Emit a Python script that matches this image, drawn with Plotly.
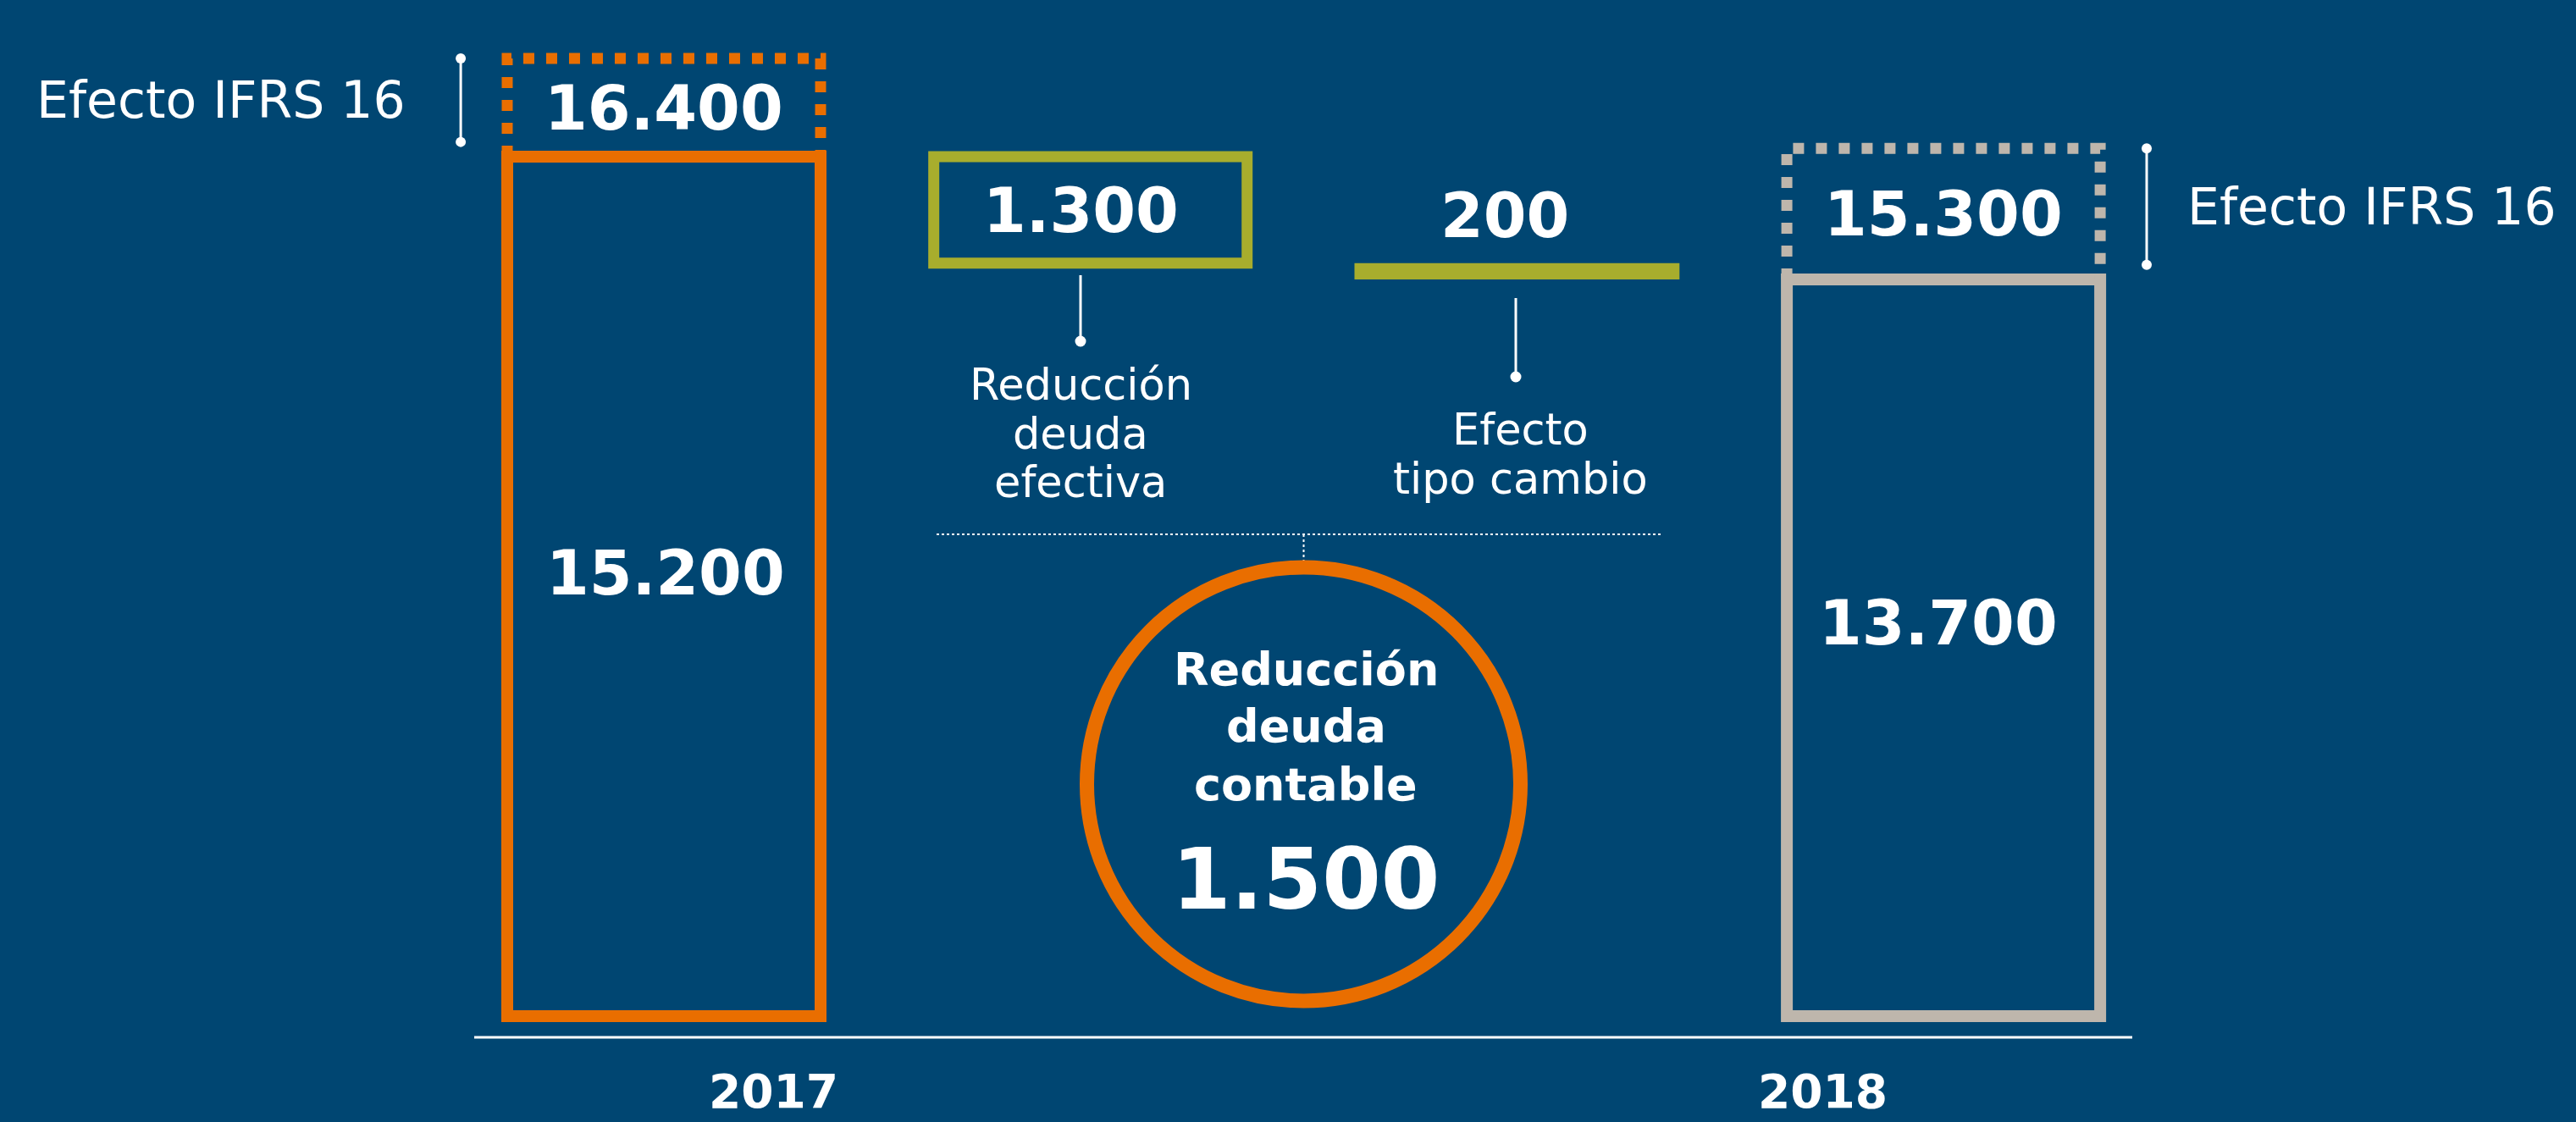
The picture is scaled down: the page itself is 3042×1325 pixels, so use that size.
import plotly.graph_objects as go

# ---------------- data ----------------
years = ["2017", "2018"]
deuda_contable = [15200, 13700]        # deuda sin efecto IFRS 16
deuda_ifrs16 = [16400, 15300]          # deuda con efecto IFRS 16
puente_labels = [["Reducción", "deuda", "efectiva"], ["Efecto", "tipo cambio"]]
puente_valores = [1300, 200]
reduccion_contable = 1500
circle_label = ["Reducción", "deuda", "contable"]
ifrs_label = "Efecto IFRS 16"

# ---------------- style / layout constants ----------------
W, H = 3042, 1325
BG = "#004672"
ORANGE = "#E96E00"
OLIVE = "#A8AD2D"
GREY = "#BEB6AC"
WHITE = "#FFFFFF"
FONT = "DejaVu Sans"

X_UNIT_PX = 503.7
X0 = -784 / X_UNIT_PX
X1 = X0 + W / X_UNIT_PX
Y_TOP, Y_BOTTOM = 17114, 3408
BASE = 4700            # visual floor of the bars
BW = 0.7346            # bar width (axis units)
BW_LINE = 0.762
BRACKET_GAP = 0.109
BRACKET_INSET = 180    # bracket stops a little above the solid bar (axis units)

pos_2017, pos_red, pos_tc, pos_2018 = 0, 1, 2, 3


def fmt(v):
    return f"{v:,}".replace(",", ".")


def px(x):
    return x / W


def py(y):
    return 1 - y / H


fig = go.Figure()

# waterfall bars
red_base = deuda_contable[0] - puente_valores[0]
tc_base = red_base - puente_valores[1]
fig.add_trace(go.Bar(
    x=[pos_2017, pos_red, pos_tc, pos_2018],
    base=[BASE, red_base, tc_base, BASE],
    y=[deuda_contable[0] - BASE, puente_valores[0], puente_valores[1], deuda_contable[1] - BASE],
    width=[BW, BW, BW_LINE, BW],
    marker=dict(
        color=["rgba(0,0,0,0)", "rgba(0,0,0,0)", OLIVE, "rgba(0,0,0,0)"],
        line=dict(color=[ORANGE, OLIVE, OLIVE, GREY], width=[14, 13, 0, 14]),
    ),
    hoverinfo="skip",
))

# dashed IFRS 16 caps + brackets
bracket_mid = []
for cx, lo, hi, col, side in [(pos_2017, deuda_contable[0], deuda_ifrs16[0], ORANGE, -1),
                              (pos_2018, deuda_contable[1], deuda_ifrs16[1], GREY, 1)]:
    fig.add_trace(go.Scatter(
        x=[cx - BW / 2, cx - BW / 2, cx + BW / 2, cx + BW / 2],
        y=[lo, hi, hi, lo],
        mode="lines",
        line=dict(color=col, width=13, dash="13px,14px"),
        hoverinfo="skip",
    ))
    bx = cx + side * (BW / 2 + BRACKET_GAP)
    b_lo = lo + BRACKET_INSET
    fig.add_trace(go.Scatter(
        x=[bx, bx], y=[hi, b_lo], mode="lines+markers",
        line=dict(color=WHITE, width=3),
        marker=dict(color=WHITE, size=12),
        hoverinfo="skip",
    ))
    bracket_mid.append((hi + b_lo) / 2)

shapes = []
# baseline
shapes.append(dict(type="line", xref="paper", yref="paper", x0=px(560), x1=px(2518),
                   y0=py(1225), y1=py(1225), line=dict(color=WHITE, width=3)))
# leaders under bridge items
for lx, ly0, ly1 in [(1276, 325, 403), (1790, 352, 445)]:
    shapes.append(dict(type="line", xref="paper", yref="paper", x0=px(lx), x1=px(lx),
                       y0=py(ly0), y1=py(ly1), line=dict(color=WHITE, width=3)))
    r = 6.5
    shapes.append(dict(type="circle", xref="paper", yref="paper", x0=px(lx - r), x1=px(lx + r),
                       y0=py(ly1 + r), y1=py(ly1 - r), fillcolor=WHITE, line=dict(width=0)))
# dotted bracket joining bridge items
shapes.append(dict(type="line", xref="paper", yref="paper", x0=px(1106), x1=px(1963),
                   y0=py(631), y1=py(631), line=dict(color=WHITE, width=2, dash="dot")))
shapes.append(dict(type="line", xref="paper", yref="paper", x0=px(1539.5), x1=px(1539.5),
                   y0=py(631), y1=py(669), line=dict(color=WHITE, width=2, dash="dot")))
# circle
ccx, ccy, cr = 1539.5, 926, 256
shapes.append(dict(type="circle", xref="paper", yref="paper", x0=px(ccx - cr), x1=px(ccx + cr),
                   y0=py(ccy + cr), y1=py(ccy - cr), line=dict(color=ORANGE, width=17)))

annotations = []


def label(text, x, y, size, bold=False, xanchor="center", xref="paper", yref="paper"):
    annotations.append(dict(
        text=text, x=px(x) if xref == "paper" else x, y=py(y) if yref == "paper" else y,
        xref=xref, yref=yref, xanchor=xanchor, yanchor="middle", showarrow=False,
        font=dict(family=FONT, size=size, color=WHITE, weight="bold" if bold else "normal"),
    ))


# IFRS labels (centered on the dashed caps)
label(fmt(deuda_ifrs16[0]), pos_2017, (deuda_contable[0] + deuda_ifrs16[0]) / 2, 73, True,
      xref="x", yref="y")
label(fmt(deuda_ifrs16[1]), pos_2018, (deuda_contable[1] + deuda_ifrs16[1]) / 2, 73, True,
      xref="x", yref="y")
label(ifrs_label, 481, bracket_mid[0], 60, xanchor="right", yref="y")
label(ifrs_label, 2581, bracket_mid[1], 60, xanchor="left", yref="y")

# bar values
label(fmt(deuda_contable[0]), 786, 677, 73, True)
label(fmt(deuda_contable[1]), 2289, 735, 73, True)
label(fmt(puente_valores[0]), 1276, 248, 73, True)
label(fmt(puente_valores[1]), 1777, 255, 73, True)

# bridge descriptions
for txt, yy in zip(puente_labels[0], [454, 512, 569]):
    label(txt, 1276, yy, 51)
for txt, yy in zip(puente_labels[1], [507, 565]):
    label(txt, 1795, yy, 51)

# circle text
for txt, yy in zip(circle_label, [790, 857, 926]):
    label(txt, 1542, yy, 54, True)
label(fmt(reduccion_contable), 1542, 1038, 100, True)

# years
label(years[0], 913, 1289, 55, True)
label(years[1], 2152, 1289, 55, True)

fig.update_layout(
    width=W, height=H, autosize=False,
    margin=dict(l=0, r=0, t=0, b=0, pad=0),
    paper_bgcolor=BG, plot_bgcolor=BG,
    showlegend=False, barmode="overlay",
    xaxis=dict(visible=False, range=[X0, X1], fixedrange=True),
    yaxis=dict(visible=False, range=[Y_BOTTOM, Y_TOP], fixedrange=True),
    shapes=shapes, annotations=annotations,
    hovermode=False,
)

fig.write_html("out.html", config={"displayModeBar": False},
               post_script="document.body.style.margin='0';document.body.style.overflow='hidden';")
